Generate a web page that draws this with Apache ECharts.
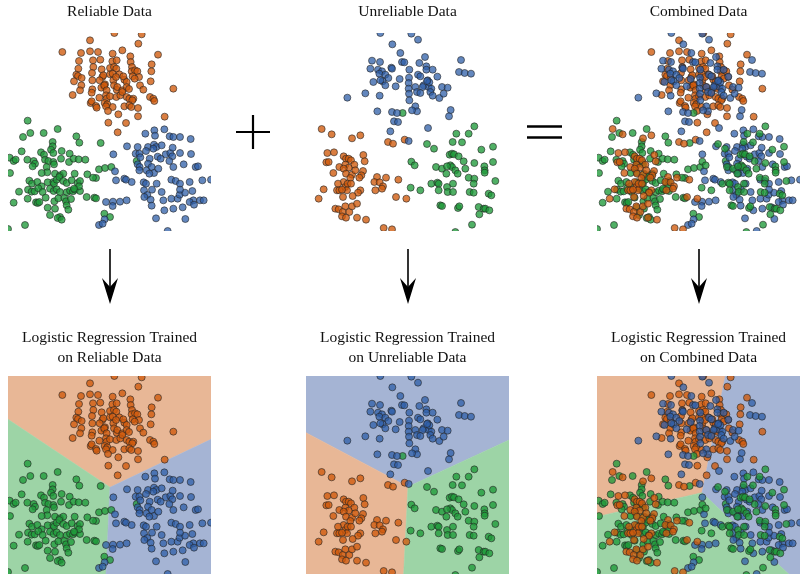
<!DOCTYPE html>
<html>
<head>
<meta charset="utf-8">
<script src="https://cdn.jsdelivr.net/npm/echarts@6/dist/echarts.min.js"></script>
<style>
html,body{margin:0;padding:0;background:#fff}
#chart{width:803px;height:577px}
</style>
</head>
<body>
<div id="chart"></div>
<script>
// Feature-space samples (x1, x2) for the three classes.
const reliableOrange = [[343,18],[425,22],[270,40],[415,50],[187,75],[243,78],[270,73],[294,75],[367,70],[474,83],[338,80],[237,102],[279,100],[301,98],[391,88],[392,105],[337,103],[350,100],[455,112],[330,123],[235,125],[280,120],[305,127],[342,120],[349,125],[396,120],[395,133],[454,133],[229,143],[234,147],[276,138],[307,150],[310,145],[330,142],[338,140],[358,142],[373,158],[405,130],[412,133],[417,150],[398,148],[222,163],[245,153],[244,175],[277,160],[299,160],[312,178],[315,172],[340,160],[348,150],[370,148],[380,165],[404,155],[420,175],[452,163],[277,187],[304,182],[313,175],[320,190],[342,175],[350,188],[352,180],[367,190],[380,180],[387,186],[430,188],[520,185],[240,190],[218,204],[275,197],[298,212],[318,205],[320,215],[330,208],[349,210],[361,205],[367,195],[380,210],[388,215],[400,215],[450,210],[460,215],[397,220],[272,228],[275,223],[288,237],[290,242],[314,228],[322,232],[318,238],[338,240],[373,238],[388,235],[394,240],[414,243],[463,222],[324,252],[355,262],[378,288],[414,268],[494,269],[325,287],[353,316]];
const reliableGreen = [[83,281],[173,306],[69,330],[91,318],[131,318],[229,328],[158,345],[238,347],[302,348],[65,373],[123,376],[158,358],[153,368],[160,378],[185,372],[209,380],[132,383],[29,392],[41,402],[47,398],[82,398],[101,402],[105,410],[135,398],[145,402],[160,405],[162,412],[183,395],[207,405],[221,395],[236,397],[256,398],[30,438],[98,418],[140,420],[142,436],[125,438],[165,440],[180,445],[190,440],[224,440],[262,442],[288,453],[297,427],[315,423],[334,420],[410,402],[88,461],[96,470],[112,465],[125,478],[143,466],[160,465],[162,470],[170,458],[178,450],[190,462],[200,468],[215,460],[233,468],[240,462],[279,452],[57,494],[84,488],[95,494],[104,493],[115,484],[128,495],[150,485],[161,492],[170,487],[180,495],[200,496],[210,491],[219,493],[225,488],[240,492],[237,478],[222,485],[41,527],[83,515],[108,526],[113,528],[118,525],[137,512],[163,523],[175,514],[193,513],[198,523],[213,516],[260,510],[283,512],[288,514],[143,542],[165,545],[200,535],[205,548],[180,570],[150,564],[173,573],[185,578],[313,560],[330,570],[75,594],[24,606]];
const reliableBlue = [[436,320],[463,310],[465,326],[493,307],[509,328],[540,330],[572,336],[520,330],[381,358],[413,360],[444,360],[462,353],[469,360],[485,355],[497,382],[511,378],[518,362],[438,372],[460,365],[407,380],[418,380],[421,391],[449,395],[473,389],[482,395],[517,388],[540,378],[573,381],[340,382],[413,412],[419,420],[418,430],[440,430],[444,410],[455,420],[462,438],[448,440],[475,425],[520,420],[551,412],[587,420],[594,418],[508,402],[345,433],[348,460],[373,455],[378,458],[395,465],[431,466],[438,470],[456,488],[470,470],[514,458],[527,462],[540,470],[569,465],[607,460],[633,458],[432,490],[442,504],[452,518],[455,536],[433,510],[485,495],[490,520],[514,515],[533,515],[539,503],[555,497],[540,488],[577,492],[580,520],[600,520],[611,520],[569,525],[582,533],[318,525],[339,524],[360,524],[338,537],[380,520],[493,550],[520,545],[548,541],[468,574],[556,576],[314,577],[297,594],[308,590],[503,612]];

const unreliableBlue = [[247,18],[340,20],[360,38],[283,52],[307,78],[381,90],[489,99],[222,101],[246,105],[280,122],[312,105],[319,106],[334,128],[364,108],[385,118],[385,128],[404,128],[483,135],[500,138],[519,140],[217,125],[240,128],[252,133],[244,140],[262,143],[271,153],[282,125],[305,156],[333,152],[360,143],[367,148],[389,160],[418,149],[226,165],[254,163],[247,160],[262,175],[293,178],[332,168],[332,185],[352,180],[377,175],[392,180],[374,180],[400,185],[432,180],[449,182],[394,166],[387,162],[148,212],[202,199],[245,206],[333,200],[334,220],[357,195],[367,198],[397,195],[404,206],[424,213],[437,200],[238,253],[282,255],[297,258],[352,238],[357,253],[342,250],[458,249],[453,268],[288,283],[300,285],[277,313],[390,303],[332,342]];
const unreliableGreen = [[529,298],[475,320],[512,320],[387,351],[408,365],[464,345],[492,346],[585,359],[550,368],[455,383],[462,380],[468,382],[482,388],[497,403],[529,408],[559,418],[585,405],[340,404],[350,415],[414,420],[432,425],[445,440],[457,415],[462,420],[472,430],[479,440],[502,425],[560,430],[560,437],[447,418],[400,470],[418,467],[422,470],[447,480],[465,470],[512,452],[529,455],[527,470],[592,462],[338,482],[367,490],[422,490],[449,495],[465,495],[515,495],[527,497],[572,500],[580,505],[427,535],[432,537],[480,543],[484,538],[542,540],[557,545],[562,545],[574,550],[544,562],[522,593],[472,615],[314,258]];
const unreliableOrange = [[71,306],[101,322],[162,334],[187,325],[270,345],[285,350],[320,338],[88,378],[108,376],[85,406],[92,405],[137,388],[144,395],[152,395],[159,400],[169,413],[142,413],[152,422],[196,384],[200,403],[106,438],[195,432],[124,420],[137,425],[144,440],[162,443],[172,430],[190,445],[184,452],[157,453],[137,465],[120,470],[117,490],[124,490],[142,480],[149,470],[159,470],[187,490],[180,497],[164,507],[147,490],[132,488],[237,450],[264,452],[301,458],[229,465],[245,466],[255,478],[252,485],[232,490],[77,487],[62,515],[135,510],[294,510],[325,515],[112,545],[122,547],[142,538],[134,555],[154,555],[162,538],[177,530],[132,568],[144,572],[177,572],[204,578],[257,603],[282,607]];

// Decision regions of each fitted model, as polygons in feature space.
const reliableRegions = {
  orange: [[24,18],[633,18],[633,208],[330,352],[24,148]],
  green:  [[24,148],[330,352],[318,612],[24,612]],
  blue:   [[330,352],[633,208],[633,612],[318,612]]
};
const unreliableRegions = {
  blue:   [[24,18],[633,18],[633,210],[330,350],[24,188]],
  orange: [[24,188],[330,350],[317,612],[24,612]],
  green:  [[330,350],[633,210],[633,612],[317,612]]
};
const combinedRegions = {
  orange: [[24,18],[409,18],[339,368],[24,440]],
  blue:   [[409,18],[633,18],[633,612],[599,612],[339,368]],
  green:  [[24,440],[339,368],[599,612],[24,612]]
};

const topTitles = ['Reliable Data', 'Unreliable Data', 'Combined Data'];
const bottomTitles = [
  ['Logistic Regression Trained', 'on Reliable Data'],
  ['Logistic Regression Trained', 'on Unreliable Data'],
  ['Logistic Regression Trained', 'on Combined Data']
];

const X_RANGE = [24, 633];
const Y_RANGE = [18, 612];

const POINT = {
  orange: 'rgba(207,90,12,0.78)',
  green:  'rgba(31,154,58,0.78)',
  blue:   'rgba(47,95,168,0.75)'
};
const REGION = {
  orange: '#e8b796',
  green:  '#9dd4a6',
  blue:   '#a5b4d4'
};

const reliable = { orange: reliableOrange, green: reliableGreen, blue: reliableBlue };
const unreliable = { orange: unreliableOrange, green: unreliableGreen, blue: unreliableBlue };

const colLeft = [8, 306, 597];
const PANEL_W = 203, PANEL_H = 198;
const ROW_TOP = [33, 376];

const panels = [
  { col: 0, row: 0, sets: [reliable], regions: null },
  { col: 1, row: 0, sets: [unreliable], regions: null },
  { col: 2, row: 0, sets: [reliable, unreliable], regions: null },
  { col: 0, row: 1, sets: [reliable], regions: reliableRegions },
  { col: 1, row: 1, sets: [unreliable], regions: unreliableRegions },
  { col: 2, row: 1, sets: [reliable, unreliable], regions: combinedRegions }
];

const grid = [], xAxis = [], yAxis = [], series = [];
panels.forEach((p, i) => {
  grid.push({ left: colLeft[p.col], top: ROW_TOP[p.row], width: PANEL_W, height: PANEL_H, show: false });
  xAxis.push({ type: 'value', gridIndex: i, min: X_RANGE[0], max: X_RANGE[1], show: false });
  yAxis.push({ type: 'value', gridIndex: i, min: Y_RANGE[0], max: Y_RANGE[1], inverse: true, show: false });
  if (p.regions) {
    const names = Object.keys(p.regions);
    series.push({
      type: 'custom',
      xAxisIndex: i, yAxisIndex: i,
      silent: true,
      clip: true,
      data: names.map((n, k) => [p.regions[n][0][0], p.regions[n][0][1], k]),
      renderItem: (params, api) => {
        const name = names[params.dataIndex];
        return {
          type: 'polygon',
          shape: { points: p.regions[name].map(pt => api.coord(pt)) },
          style: { fill: REGION[name], stroke: REGION[name], lineWidth: 0.5 }
        };
      },
      z: 1
    });
  }
  // Sample markers, clipped at the panel frame
  p.sets.forEach(set => {
    ['orange', 'green', 'blue'].forEach(cls => {
      series.push({
        type: 'custom',
        xAxisIndex: i, yAxisIndex: i,
        data: set[cls],
        clip: true,
        silent: true,
        encode: { x: 0, y: 1 },
        renderItem: (params, api) => {
          const c = api.coord([api.value(0), api.value(1)]);
          return {
            type: 'circle',
            shape: { cx: c[0], cy: c[1], r: 3.5 },
            style: { fill: POINT[cls], stroke: 'rgba(35,35,35,0.75)', lineWidth: 0.8 }
          };
        },
        z: 2
      });
    });
  });
});

const FONT = '"Liberation Serif", "Times New Roman", serif';
const graphic = [];
topTitles.forEach((t, c) => {
  graphic.push({ type: 'text', x: colLeft[c] + PANEL_W / 2, y: 12,
    style: { text: t, font: '15.5px ' + FONT, fill: '#111', textAlign: 'center', textVerticalAlign: 'middle' } });
});
bottomTitles.forEach((lines, c) => {
  lines.forEach((t, k) => {
    graphic.push({ type: 'text', x: colLeft[c] + PANEL_W / 2, y: 338 + k * 19.5,
      style: { text: t, font: '15.5px ' + FONT, fill: '#111', textAlign: 'center', textVerticalAlign: 'middle' } });
  });
});
// Arrows from each dataset to its trained model
colLeft.forEach(l => {
  const cx = l + PANEL_W / 2 + 0.5;
  graphic.push({ type: 'line', shape: { x1: cx, y1: 249, x2: cx, y2: 290 }, style: { stroke: '#000', lineWidth: 1.6 } });
  graphic.push({ type: 'polygon', shape: { points: [[cx, 304], [cx - 8, 278], [cx, 287], [cx + 8, 278]] }, style: { fill: '#000' } });
});
// Plus and equals signs between the top panels
graphic.push({ type: 'line', shape: { x1: 236, y1: 132, x2: 270, y2: 132 }, style: { stroke: '#000', lineWidth: 2.2 } });
graphic.push({ type: 'line', shape: { x1: 253, y1: 115, x2: 253, y2: 149 }, style: { stroke: '#000', lineWidth: 2.2 } });
graphic.push({ type: 'line', shape: { x1: 527, y1: 126.5, x2: 562, y2: 126.5 }, style: { stroke: '#000', lineWidth: 2.4 } });
graphic.push({ type: 'line', shape: { x1: 527, y1: 137.5, x2: 562, y2: 137.5 }, style: { stroke: '#000', lineWidth: 2.4 } });

const chart = echarts.init(document.getElementById('chart'), null, { renderer: 'canvas' });
chart.setOption({
  animation: false,
  backgroundColor: '#fff',
  grid, xAxis, yAxis, series, graphic
});
</script>
</body>
</html>
